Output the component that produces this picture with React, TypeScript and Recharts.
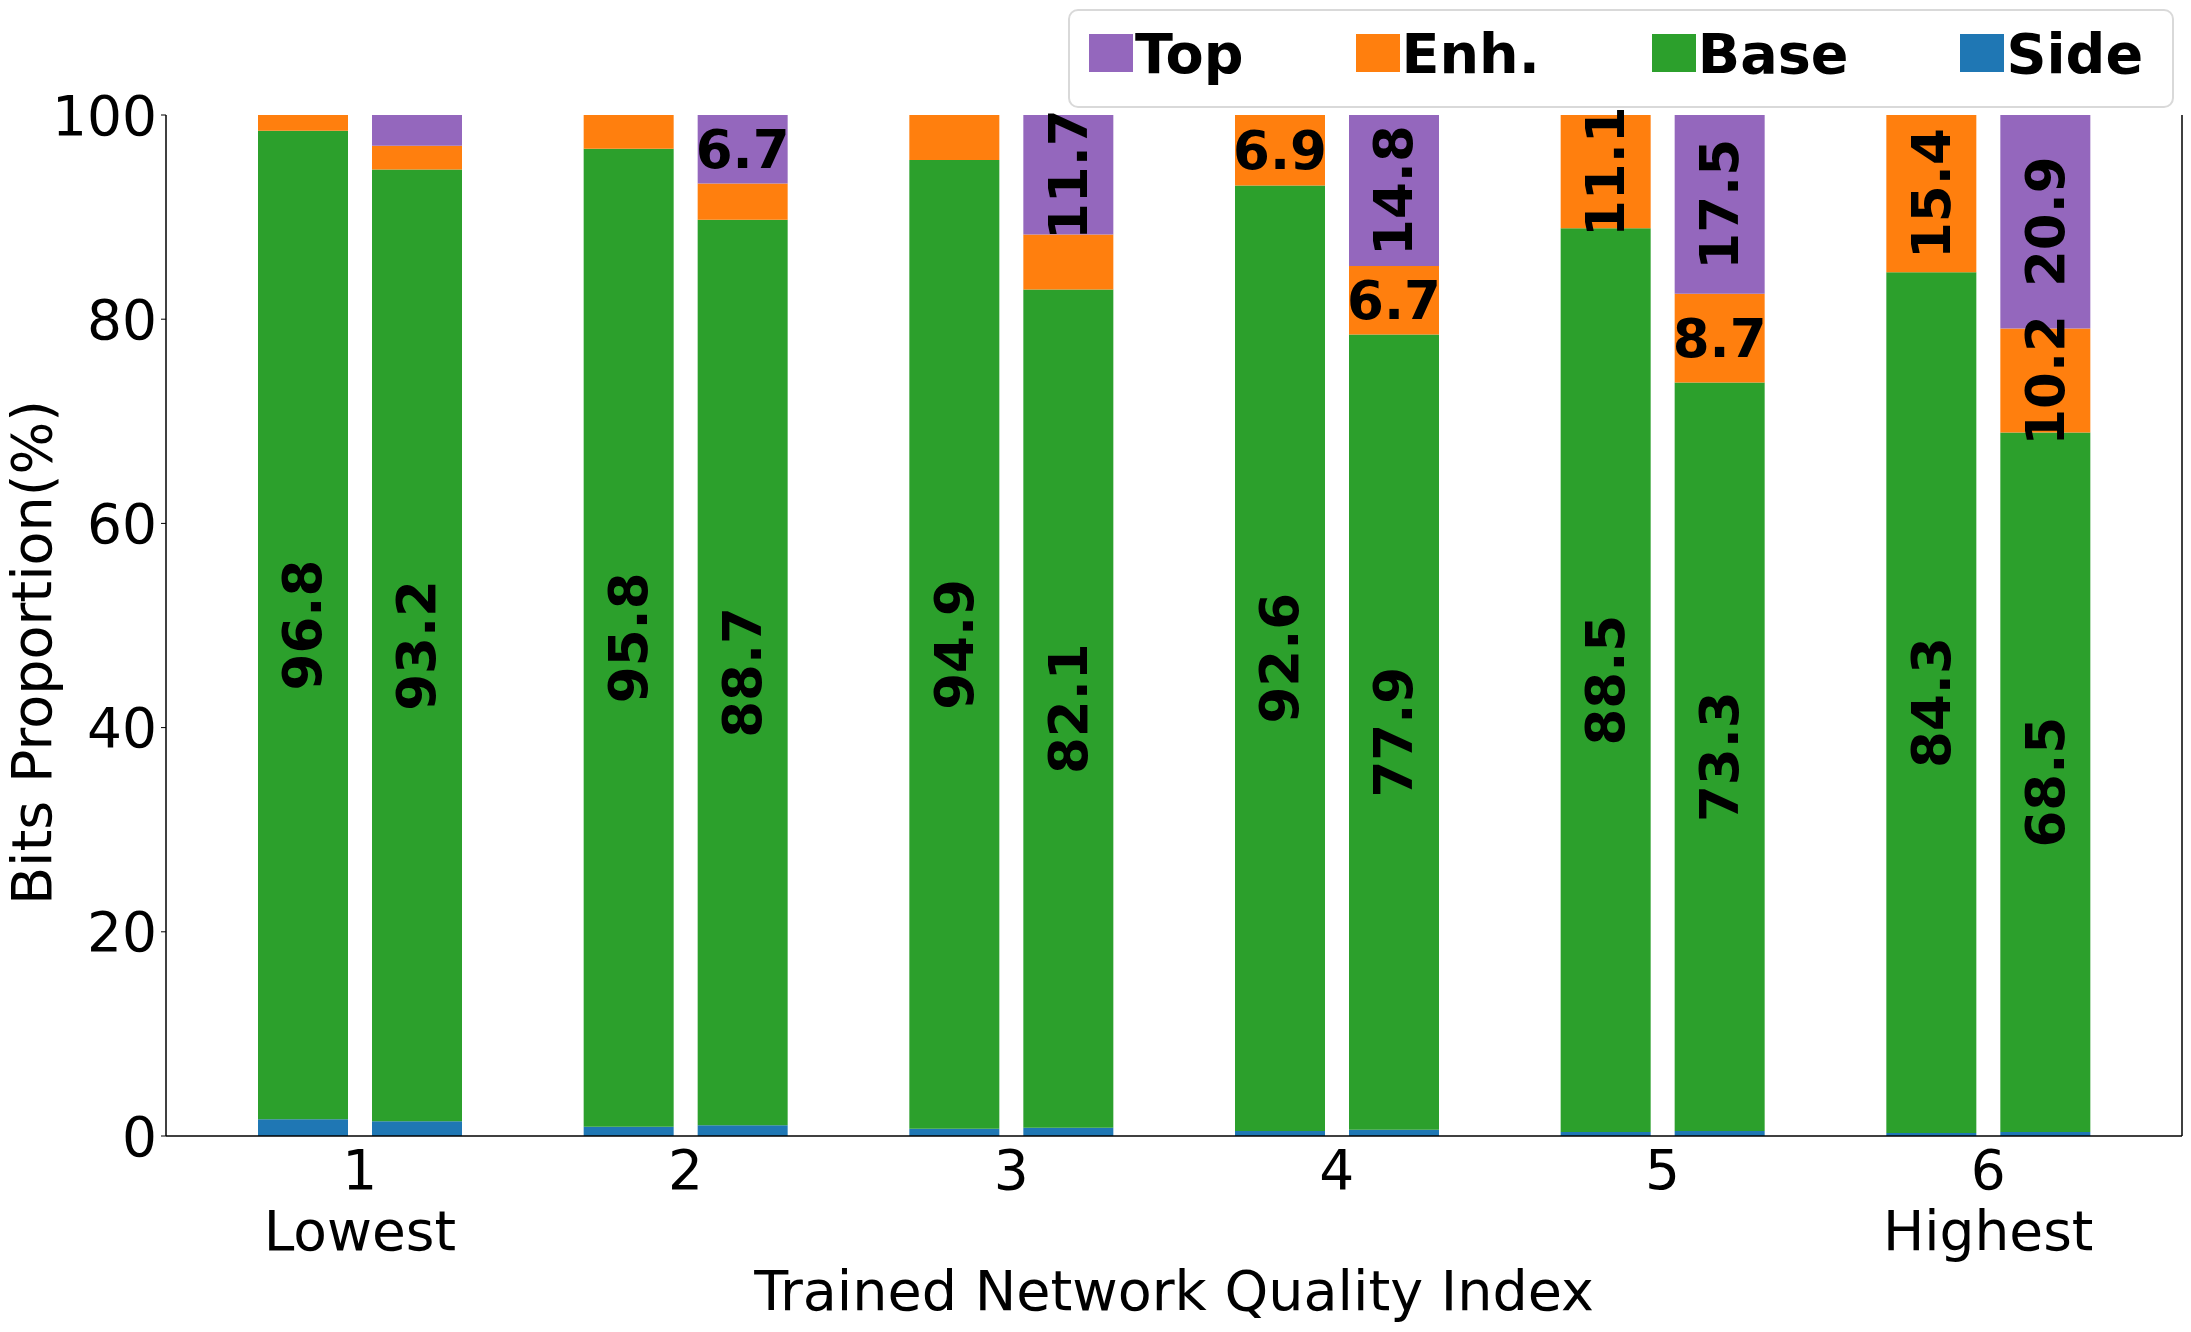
import React from "react";
import {
  BarChart,
  Bar,
  XAxis,
  YAxis,
  Legend,
  LabelList,
} from "recharts";

// Quality index 1..6, two stacked bars per index (left: no Top layer).
const categories = ["1", "2", "3", "4", "5", "6"];
const extremeLabels = ["Lowest", "", "", "", "", "Highest"];

const sideLeft = [1.65, 0.9, 0.7, 0.5, 0.4, 0.3];
const baseLeft = [96.8, 95.8, 94.9, 92.6, 88.5, 84.3];
const enhLeft = [1.55, 3.3, 4.4, 6.9, 11.1, 15.4];

const sideRight = [1.45, 1.05, 0.8, 0.6, 0.5, 0.4];
const baseRight = [93.2, 88.7, 82.1, 77.9, 73.3, 68.5];
const enhRight = [2.35, 3.55, 5.4, 6.7, 8.7, 10.2];
const topRight = [3.0, 6.7, 11.7, 14.8, 17.5, 20.9];

const yTicks = [0, 20, 40, 60, 80, 100];

const COLORS = {
  Top: "#9467bd",
  Enh: "#ff7f0e",
  Base: "#2ca02c",
  Side: "#1f77b4",
};

const legendItems = [
  { label: "Top", color: COLORS.Top },
  { label: "Enh.", color: COLORS.Enh },
  { label: "Base", color: COLORS.Base },
  { label: "Side", color: COLORS.Side },
];

const FONT = "'DejaVu Sans', sans-serif";
const LABEL_MIN = 6;

const data = categories.map((name, i) => ({
  name,
  sideL: sideLeft[i],
  baseL: baseLeft[i],
  enhL: enhLeft[i],
  sideR: sideRight[i],
  baseR: baseRight[i],
  enhR: enhRight[i],
  topR: topRight[i],
}));

// small segments stay unlabelled, two-digit values are turned upright
const renderBarLabel = (props: any) => {
  const { x, y, width, height, value } = props;
  const v = Number(value);
  if (!isFinite(v) || v < LABEL_MIN) return null;
  const cx = Number(x) + Number(width) / 2;
  const cy = Number(y) + Number(height) / 2;
  return (
    <text
      x={cx}
      y={cy}
      textAnchor="middle"
      dominantBaseline="central"
      transform={v >= 10 ? `rotate(-90 ${cx} ${cy})` : undefined}
      style={{ fontFamily: FONT, fontWeight: "bold", fontSize: 53, fill: "#000" }}
    >
      {v.toFixed(1)}
    </text>
  );
};

const XTick = (props: any) => {
  const { x, y, payload } = props;
  const idx = categories.indexOf(String(payload.value));
  const style = { fontFamily: FONT, fontSize: 55, fill: "#000" };
  return (
    <g>
      <text x={x} y={y + 53} textAnchor="middle" style={style}>
        {payload.value}
      </text>
      {extremeLabels[idx] ? (
        <text x={x} y={y + 114} textAnchor="middle" style={style}>
          {extremeLabels[idx]}
        </text>
      ) : null}
    </g>
  );
};

const LegendBox = () => (
  <div
    style={{
      boxSizing: "border-box",
      width: 1106,
      height: 99,
      border: "2px solid #d9d9d9",
      borderRadius: 10,
      background: "rgba(255,255,255,0.8)",
      display: "flex",
      alignItems: "flex-start",
      paddingLeft: 19,
      paddingTop: 15,
      fontFamily: FONT,
      fontWeight: "bold",
      fontSize: 55.6,
      lineHeight: 1,
      color: "#000",
    }}
  >
    {legendItems.map((item, i) => (
      <div
        key={item.label}
        style={{
          display: "flex",
          alignItems: "flex-start",
          marginRight: i < legendItems.length - 1 ? 112 : 0,
        }}
      >
        <div
          style={{
            width: 44,
            height: 38,
            marginTop: 8,
            marginRight: 2,
            background: item.color,
          }}
        />
        <span>{item.label}</span>
      </div>
    ))}
  </div>
);

const App = () => {
  return (
    <div>
      <style>{"body{margin:0;background:#fff}"}</style>
      <BarChart
        width={2191}
        height={1332}
        data={data}
        margin={{ top: 115, right: 0, bottom: 0, left: 0 }}
        barSize={90}
        barGap={24}
      >
        <XAxis
          dataKey="name"
          height={196}
          padding={{ left: 31, right: 31 }}
          tickLine={false}
          tickSize={0}
          tickMargin={0}
          interval={0}
          axisLine={{ stroke: "#000", strokeWidth: 1.5 }}
          tick={<XTick />}
          label={{
            content: (p: any) => {
              const vb = p.viewBox || { x: 166, y: 1136, width: 2016 };
              return (
                <text
                  x={vb.x + vb.width / 2}
                  y={vb.y + 174}
                  textAnchor="middle"
                  style={{ fontFamily: FONT, fontSize: 55.6, fill: "#000" }}
                >
                  Trained Network Quality Index
                </text>
              );
            },
          }}
        />
        <XAxis
          xAxisId="top"
          orientation="top"
          dataKey="name"
          height={0}
          tick={false}
          tickLine={false}
          axisLine={{ stroke: "#000", strokeWidth: 1.5 }}
        />
        <YAxis
          type="number"
          width={166}
          domain={[0, 100]}
          ticks={yTicks}
          interval={0}
          tickSize={5}
          tickMargin={4}
          tickLine={{ stroke: "#000" }}
          axisLine={{ stroke: "#000", strokeWidth: 1.5 }}
          tick={{ fontFamily: FONT, fontSize: 55, fill: "#000" }}
          label={{
            content: (p: any) => {
              const vb = p.viewBox || { x: 0, y: 115, width: 166, height: 1021 };
              const cx = 51;
              const cy = vb.y + vb.height / 2 + 27;
              return (
                <text
                  x={cx}
                  y={cy}
                  textAnchor="middle"
                  transform={`rotate(-90 ${cx} ${cy})`}
                  style={{ fontFamily: FONT, fontSize: 55.6, fill: "#000" }}
                >
                  Bits Proportion(%)
                </text>
              );
            },
          }}
        />
        <YAxis
          yAxisId="right"
          orientation="right"
          width={9}
          tick={false}
          tickLine={false}
          axisLine={{ stroke: "#000", strokeWidth: 1.5 }}
        />
        <Legend
          layout="horizontal"
          verticalAlign="middle"
          align="center"
          wrapperStyle={{ top: 9, left: 1068, width: 1106, height: 99 }}
          content={() => <LegendBox />}
        />

        <Bar dataKey="sideL" stackId="L" fill={COLORS.Side} isAnimationActive={false} />
        <Bar dataKey="baseL" stackId="L" fill={COLORS.Base} isAnimationActive={false}>
          <LabelList dataKey="baseL" content={renderBarLabel} />
        </Bar>
        <Bar dataKey="enhL" stackId="L" fill={COLORS.Enh} isAnimationActive={false}>
          <LabelList dataKey="enhL" content={renderBarLabel} />
        </Bar>

        <Bar dataKey="sideR" stackId="R" fill={COLORS.Side} isAnimationActive={false} />
        <Bar dataKey="baseR" stackId="R" fill={COLORS.Base} isAnimationActive={false}>
          <LabelList dataKey="baseR" content={renderBarLabel} />
        </Bar>
        <Bar dataKey="enhR" stackId="R" fill={COLORS.Enh} isAnimationActive={false}>
          <LabelList dataKey="enhR" content={renderBarLabel} />
        </Bar>
        <Bar dataKey="topR" stackId="R" fill={COLORS.Top} isAnimationActive={false}>
          <LabelList dataKey="topR" content={renderBarLabel} />
        </Bar>
      </BarChart>
    </div>
  );
};

export default App;
